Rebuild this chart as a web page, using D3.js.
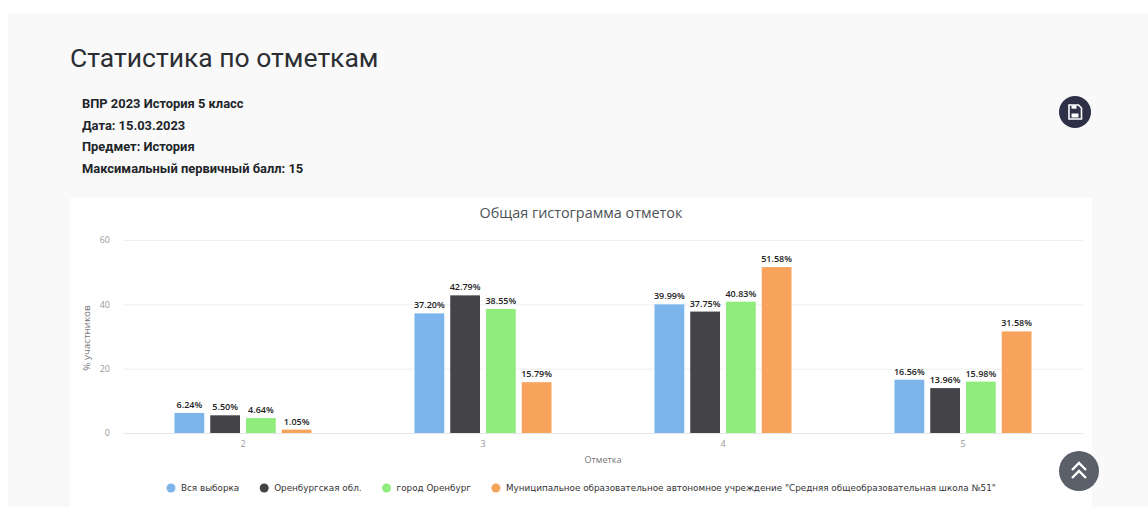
<!DOCTYPE html>
<html lang="ru">
<head>
<meta charset="utf-8">
<script src="https://cdn.jsdelivr.net/npm/d3@7"></script>
<style>
    html, body { margin: 0; padding: 0; background: #fff; overflow: hidden; }
    svg { display: block; }
</style>
</head>
<body>
<div id="chart"></div>
<script>
const categories = ["2", "3", "4", "5"];
const seriesNames = [
    "Вся выборка",
    "Оренбургская обл.",
    "город Оренбург",
    "Муниципальное образовательное автономное учреждение \"Средняя общеобразовательная школа №51\""
];
const allSample = [6.24, 37.20, 39.99, 16.56];
const oblast = [5.50, 42.79, 37.75, 13.96];
const city = [4.64, 38.55, 40.83, 15.98];
const school = [1.05, 15.79, 51.58, 31.58];
const yTicks = [0, 20, 40, 60];
const infoLines = [
    "ВПР 2023 История 5 класс",
    "Дата: 15.03.2023",
    "Предмет: История",
    "Максимальный первичный балл: 15"
];

const seriesValues = [allSample, oblast, city, school];
const seriesColors = ["#7cb5ec", "#434348", "#90ed7d", "#f7a35c"];

const width = 1148;
const height = 507;
const plot = { left: 123, right: 1083, top: 240, bottom: 433 };

const svg = d3.select("#chart").append("svg")
    .attr("width", width)
    .attr("height", height);

// Page panel and chart card
svg.append("rect").attr("x", 8).attr("y", 13).attr("width", width - 8).attr("height", height - 13).attr("fill", "#f9f9fa");
svg.append("rect").attr("x", 70).attr("y", 198).attr("width", 1022).attr("height", height - 198).attr("fill", "#fff");

// Heading
svg.append("text")
    .attr("x", 70).attr("y", 67)
    .attr("font-family", "Roboto")
    .attr("font-size", 26.5)
    .attr("fill", "#2b2e33")
    .text("Статистика по отметкам");

svg.selectAll(".info")
    .data(infoLines)
    .enter()
    .append("text")
    .attr("class", "info")
    .attr("x", 82)
    .attr("y", (d, i) => 108 + i * 21.7)
    .attr("font-family", "Roboto")
    .attr("font-weight", 700)
    .attr("font-size", 12.9)
    .attr("fill", "#212529")
    .text(d => d);

// Save button
const save = svg.append("g").attr("transform", "translate(1075,112)");
save.append("circle").attr("r", 16).attr("fill", "#2d3047");
save.append("path")
    .attr("d", "M-6,-7h9.5l3,3v11h-12.5z")
    .attr("fill", "none").attr("stroke", "#fff").attr("stroke-width", 1.6);
save.append("rect").attr("x", -3.5).attr("y", -6.5).attr("width", 5).attr("height", 3.2).attr("fill", "#fff");
save.append("rect").attr("x", -3.5).attr("y", 1.5).attr("width", 7).attr("height", 4).attr("fill", "#fff");

// Chart title
svg.append("text")
    .attr("x", 581).attr("y", 218)
    .attr("text-anchor", "middle")
    .attr("font-family", "Open Sans")
    .attr("font-size", 14.4)
    .attr("fill", "#4d5257")
    .text("Общая гистограмма отметок");

// Scales
const xScale = d3.scaleBand().domain(categories).range([plot.left, plot.right]);
const seriesScale = d3.scaleBand()
    .domain(d3.range(seriesNames.length))
    .range([-68.5, 68.5])
    .paddingInner(0.167);
const yScale = d3.scaleLinear().domain([0, 60]).range([plot.bottom, plot.top]);

// Axes
const yAxis = svg.append("g")
    .attr("transform", "translate(" + plot.left + ",0)")
    .call(d3.axisLeft(yScale).tickValues(yTicks).tickSize(-(plot.right - plot.left)).tickPadding(13));
yAxis.select(".domain").remove();
yAxis.selectAll("line").attr("stroke", "#eeeff1");
yAxis.selectAll("text")
    .attr("font-family", "Open Sans")
    .attr("font-size", 9)
    .attr("fill", "#999");

const xAxis = svg.append("g")
    .attr("transform", "translate(0," + plot.bottom + ")")
    .call(d3.axisBottom(xScale).tickSize(0).tickPadding(8));
xAxis.select(".domain").attr("stroke", "#e6e8ea");
xAxis.selectAll("text")
    .attr("font-family", "Open Sans")
    .attr("font-size", 9)
    .attr("fill", "#999");

svg.append("text")
    .attr("transform", "translate(90,338) rotate(-90)")
    .attr("text-anchor", "middle")
    .attr("font-family", "Open Sans")
    .attr("font-size", 9.8)
    .attr("fill", "#777")
    .text("% участников");

svg.append("text")
    .attr("x", 603).attr("y", 463)
    .attr("text-anchor", "middle")
    .attr("font-family", "Open Sans")
    .attr("font-size", 9)
    .attr("fill", "#777")
    .text("Отметка");

// Bars and value labels
const groups = svg.selectAll(".series")
    .data(seriesValues)
    .enter()
    .append("g")
    .attr("class", "series")
    .attr("fill", (d, i) => seriesColors[i]);

groups.each(function(values, s) {
    const g = d3.select(this);
    const barX = (i) => xScale(categories[i]) + xScale.bandwidth() / 2 + seriesScale(s);

    g.selectAll("rect")
        .data(values)
        .enter()
        .append("rect")
        .attr("x", (d, i) => barX(i))
        .attr("y", d => yScale(d))
        .attr("width", seriesScale.bandwidth())
        .attr("height", d => plot.bottom - yScale(d));

    g.selectAll("text")
        .data(values)
        .enter()
        .append("text")
        .attr("x", (d, i) => barX(i) + seriesScale.bandwidth() / 2)
        .attr("y", d => yScale(d) - 5)
        .attr("text-anchor", "middle")
        .attr("font-family", "Open Sans")
        .attr("font-weight", 600)
        .attr("font-size", 9)
        .attr("fill", "#222")
        .text(d => d.toFixed(2) + "%");
});

// Legend, each entry placed after the width of the one before it
const legend = svg.append("g").attr("transform", "translate(166,488)");
let legendX = 0;
seriesNames.forEach((name, i) => {
    const item = legend.append("g").attr("transform", "translate(" + legendX + ",0)");
    item.append("circle").attr("cx", 5).attr("r", 4.5).attr("fill", seriesColors[i]);
    const label = item.append("text")
        .attr("x", 15)
        .attr("y", 3)
        .attr("font-family", "DejaVu Sans")
        .attr("font-size", 8.8)
        .attr("fill", "#333")
        .text(name);
    legendX += 15 + label.node().getComputedTextLength() + 20;
});

// Scroll-to-top button
const up = svg.append("g").attr("transform", "translate(1079,471)");
up.append("circle").attr("r", 20).attr("fill", "#5a5f69");
up.append("path")
    .attr("d", "M-7,-1L0,-8L7,-1M-7,7L0,0L7,7")
    .attr("fill", "none").attr("stroke", "#fff").attr("stroke-width", 2.4);
</script>
</body>
</html>
